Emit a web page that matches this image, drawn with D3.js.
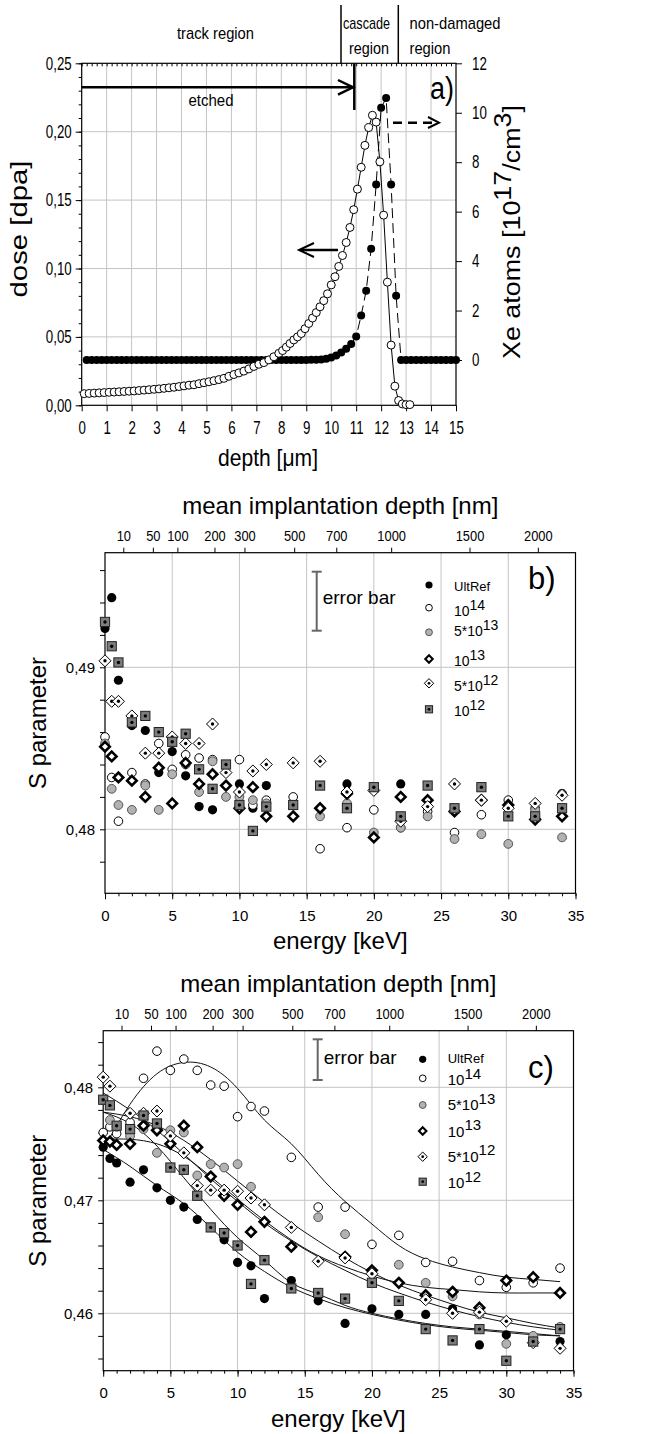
<!DOCTYPE html>
<html>
<head>
<meta charset="utf-8">
<script src="https://cdn.jsdelivr.net/npm/d3@7"></script>
<style>
  body { margin: 0; background: #fff; }
  svg { display: block; }
</style>
</head>
<body>
<svg id="chart" width="657" height="1434"></svg>
<script>
// ---------- panel a) data ----------
var doseDepth = [0.1,0.3,0.5,0.7,0.9,1.1,1.3,1.5,1.7,1.9,2.1,2.3,2.5,2.7,2.9,3.1,3.3,3.5,3.7,3.9,
  4.1,4.3,4.5,4.7,4.9,5.1,5.3,5.5,5.7,5.9,6.1,6.3,6.5,6.7,6.9,7.1,7.3,7.5,7.7,7.9,
  8.05,8.2,8.35,8.5,8.65,8.8,8.95,9.1,9.25,9.4,9.55,9.7,9.85,10.0,10.15,10.3,10.45,10.6,10.75,10.9,
  11.05,11.2,11.35,11.5,11.65,11.8,11.95,12.1,12.25,12.4,12.55,12.7,12.85,13.0,13.15];
var dose = [0.0085,0.0087,0.0089,0.0091,0.0093,0.0095,0.0097,0.0099,0.0101,0.0103,0.0105,0.0108,0.0111,0.0114,0.0117,0.0120,0.0124,0.0128,0.0132,0.0137,
  0.0142,0.0147,0.0150,0.0158,0.0165,0.0172,0.0180,0.0188,0.0197,0.0212,0.0225,0.0237,0.0250,0.0266,0.0284,0.0300,0.0312,0.0332,0.0355,0.0380,
  0.0400,0.0425,0.0452,0.0478,0.0500,0.0525,0.0560,0.0598,0.0638,0.0678,0.0720,0.0765,0.0815,0.0880,0.0940,0.1015,0.1095,0.1190,0.1300,0.1430,
  0.1580,0.1740,0.1900,0.2030,0.2120,0.2070,0.1780,0.1390,0.0900,0.0440,0.0140,0.0035,0.0010,0.0005,0.0005];

var xeDepth = [0.2,0.4,0.6,0.8,1.0,1.2,1.4,1.6,1.8,2.0,2.2,2.4,2.6,2.8,3.0,3.2,3.4,3.6,3.8,4.0,
  4.2,4.4,4.6,4.8,5.0,5.2,5.4,5.6,5.8,6.0,6.2,6.4,6.6,6.8,7.0,7.2,7.4,7.6,7.8,8.0,
  8.2,8.4,8.6,8.8,9.0,9.2,9.4,9.6,9.8,10.0,10.2,10.4,10.6,10.8,11.0,11.2,11.4,11.6,11.8,12.0,
  12.2,12.4,12.6,12.8,13.0,13.2,13.4,13.6,13.8,14.0,14.2,14.4,14.6,14.8,15.0];
var xeAtoms = [0,0,0,0,0,0,0,0,0,0,0,0,0,0,0,0,0,0,0,0,
  0,0,0,0,0,0,0,0,0,0,0,0,0,0,0,0,0,0,0,0,
  0,0,0,0,0,0.01,0.01,0.02,0.05,0.1,0.18,0.3,0.45,0.65,0.95,1.8,2.8,4.5,7.1,10.2,
  10.6,7.1,2.6,0,0,0,0,0,0,0,0,0,0,0,0];

// ---------- panels b) and c) data ----------
var energies = [0,0.5,1,2,3,4,5,6,7,8,9,10,11,12,14,16,18,20,22,24,26,28,30,32,34];
var seriesNames = ["UltRef","10^14","5*10^13","10^13","5*10^12","10^12"];
var seriesKinds = ["ult","e14","g13","d13","d12","s12"];

var bUltRef = [0.4924,0.4943,0.4892,0.4864,0.4861,0.4835,0.4848,0.4833,0.4814,0.4812,null,0.4828,0.4813,0.4827,null,null,0.4828,null,0.4828,null,null,null,null,null,0.4822];
var b1e14   = [0.4857,0.4832,0.4805,0.4835,0.4828,0.4853,0.4837,0.4846,0.4844,0.4843,null,0.4843,0.4815,0.4818,0.4820,0.4788,0.4801,0.4812,0.4801,0.4811,0.4798,0.4809,0.4818,0.4813,0.4822];
var b5e13   = [0.4853,0.4825,0.4815,0.4812,0.4827,0.4812,0.4834,0.4840,0.4823,0.4842,0.4820,0.4820,0.4818,0.4816,null,0.4808,0.4816,0.4798,0.4801,0.4808,0.4794,0.4797,0.4791,0.4812,0.4795];
var b1e13   = [0.4851,0.4845,0.4832,0.4830,0.4820,0.4838,0.4816,0.4841,0.4828,0.4834,0.4827,0.4813,0.4826,0.4808,0.4808,0.4813,0.4822,0.4795,0.4820,0.4818,0.4811,0.4818,0.4815,0.4806,0.4808];
var b5e12   = [0.4904,0.4879,0.4879,0.4870,0.4847,0.4847,0.4857,0.4853,0.4853,0.4865,0.4835,0.4823,0.4836,0.4840,0.4841,0.4842,0.4823,0.4824,0.4805,0.4814,0.4828,0.4818,0.4813,0.4816,0.4821];
var b1e12   = [0.4928,0.4913,0.4903,0.4866,0.4870,0.4860,0.4854,0.4859,0.4837,0.4825,0.4840,0.4815,0.4799,0.4814,0.4815,0.4827,0.4813,0.4826,0.4808,0.4827,0.4813,0.4826,0.4808,0.4808,0.4813];

var cUltRef = [0.4747,0.4737,0.4733,0.4716,0.4727,0.4711,0.4700,0.4694,0.4683,null,0.4665,0.4645,0.4642,0.4613,0.4629,0.4611,0.4591,0.4604,0.4599,0.4599,0.4604,0.4572,0.4581,null,0.4575];
var c1e14   = [0.4760,0.4765,0.4759,0.4769,0.4808,0.4832,0.4815,0.4825,0.4815,0.4802,0.4801,0.4774,0.4783,0.4779,0.4738,0.4694,0.4694,0.4661,0.4669,0.4645,0.4646,0.4629,0.4623,0.4627,0.4640];
var c5e13   = [0.4789,0.4771,0.4765,0.4757,0.4763,0.4742,0.4762,0.4760,0.4722,0.4732,0.4729,0.4732,0.4712,null,null,0.4685,0.4670,null,0.4643,0.4627,0.4615,0.4599,0.4573,0.4580,0.4588];
var c1e13   = [0.4753,0.4752,0.4749,0.4750,0.4766,0.4762,0.4750,0.4766,0.4747,0.4721,0.4704,0.4696,0.4672,0.4681,0.4659,null,0.4650,0.4638,0.4627,0.4616,0.4619,0.4605,0.4629,0.4632,0.4618];
var c5e12   = [0.4809,0.4801,null,0.4777,0.4777,0.4779,0.4757,0.4742,0.4713,0.4709,0.4709,0.4708,0.4702,0.4696,0.4676,0.4646,0.4649,0.4635,null,0.4612,0.4600,0.4601,0.4593,0.4574,0.4569];
var c1e12   = [0.4789,0.4784,0.4766,0.4763,0.4775,0.4768,0.4729,0.4727,0.4704,0.4676,0.4671,0.4660,0.4626,0.4647,0.4622,0.4618,0.4613,0.4627,0.4611,0.4586,0.4576,0.4586,0.4558,0.4575,0.4586];

// fitted curves of panel c)
var fitEnergy = [0,2,4,6,8,10,12,14,16,18,20,22,24,26,28,30,32,34];
var fitUltRef = [0.4745,0.4730,0.4713,0.4697,0.4676,0.4654,0.4637,0.4623,0.4613,0.4605,0.4599,0.4594,0.4590,0.4587,0.4585,0.4583,0.4581,0.4580];
var fit1e14   = [0.4745,0.4785,0.4812,0.4822,0.4818,0.4799,0.4771,0.4750,0.4723,0.4699,0.4679,0.4660,0.4648,0.4641,0.4636,0.4632,0.4630,0.4628];
var fit5e13   = [0.4778,0.4774,0.4766,0.4753,0.4736,0.4717,0.4698,0.4680,0.4664,0.4649,0.4636,0.4625,0.4616,0.4608,0.4601,0.4596,0.4591,0.4587];
var fit1e13   = [0.4754,0.4754,0.4750,0.4739,0.4721,0.4701,0.4682,0.4665,0.4651,0.4641,0.4633,0.4627,0.4623,0.4621,0.4619,0.4618,0.4618,0.4618];
var fit5e12   = [0.4795,0.4780,0.4762,0.4741,0.4719,0.4699,0.4680,0.4664,0.4650,0.4638,0.4627,0.4618,0.4610,0.4603,0.4597,0.4592,0.4588,0.4585];
var fit1e12   = [0.4778,0.4768,0.4748,0.4720,0.4692,0.4667,0.4647,0.4627,0.4617,0.4607,0.4600,0.4595,0.4591,0.4588,0.4586,0.4584,0.4582,0.4580];

// top axis (mean implantation depth) tick labels
var depthTicks = [10,50,100,200,300,500,700,1000,1500,2000];

var FONT = "'Liberation Sans', Arial, sans-serif";
var GRID = "#c4c4c4";

var svg = d3.select("#chart");
function comma(v){ return d3.format(".2f")(v).replace(".", ","); }

// remove domain, style ticks; sx squeezes the labels horizontally
function cleanAxis(g, size, sx){
	g.select(".domain").remove();
	g.selectAll(".tick line").attr("stroke", "#000");
	var t = g.selectAll(".tick text").attr("fill", "#000").style("font-family", FONT).style("font-size", size + "px");
	if (sx && sx !== 1) {
		t.each(function(){
			var el = d3.select(this);
			var x = +el.attr("x") || 0;
			el.attr("x", x / sx).attr("transform", "scale(" + sx + ",1)");
		});
	}
}

// text fitted to a given width
function fitText(g, x, y, s, size, width, anchor){
	return g.append("text").attr("x", x).attr("y", y).attr("text-anchor", anchor || "middle")
		.style("font-family", FONT).style("font-size", size + "px")
		.attr("textLength", width).attr("lengthAdjust", "spacingAndGlyphs").text(s);
}

function drawMarker(g, kind, x, y, s){
	s = s || 1;
	var m = g.append("g").attr("transform", "translate(" + x + "," + y + ")");
	if (kind === "ult") {
		m.append("circle").attr("r", 4.6*s).attr("fill", "#000");
	} else if (kind === "e14") {
		m.append("circle").attr("r", 4.3*s).attr("fill", "#fff").attr("stroke", "#000").attr("stroke-width", 1);
	} else if (kind === "g13") {
		m.append("circle").attr("r", 4.4*s).attr("fill", "#b2b2b2").attr("stroke", "#555").attr("stroke-width", 1);
	} else if (kind === "d13") {
		var h = 4.8*s;
		m.append("path").attr("d", "M0," + (-h) + "L" + h + ",0L0," + h + "L" + (-h) + ",0Z")
			.attr("fill", "#fff").attr("stroke", "#000").attr("stroke-width", 2.6*s);
	} else if (kind === "d12") {
		var h2 = 6*s;
		m.append("path").attr("d", "M0," + (-h2) + "L" + h2 + ",0L0," + h2 + "L" + (-h2) + ",0Z")
			.attr("fill", "#fff").attr("stroke", "#000").attr("stroke-width", 1);
		m.append("circle").attr("r", 1.7*s).attr("fill", "#000");
	} else if (kind === "s12") {
		var a = 4.6*s;
		m.append("rect").attr("x", -a).attr("y", -a).attr("width", 2*a).attr("height", 2*a)
			.attr("fill", "#7c7c7c").attr("stroke", "#222").attr("stroke-width", 1);
		m.append("circle").attr("r", 1.7*s).attr("fill", "#000");
	}
}

function supLabel(g, x, y, base, sup, size){
	var t = g.append("text").attr("x", x).attr("y", y)
		.style("font-family", FONT).style("font-size", size + "px").attr("fill", "#000");
	t.append("tspan").text(base);
	if (sup) t.append("tspan").attr("dy", -6.5).text(sup);
}

///////////////////////////
// panel a)
///////////////////////////
var A = {l: 81.7, r: 456, t: 63.3, b: 405.3};
var SQ = 0.74;
var xA = d3.scaleLinear().domain([0, 15]).range([A.l, A.r]);
var yA = d3.scaleLinear().domain([0, 0.25]).range([A.b, A.t]);
var yXe = d3.scaleLinear().domain([0, 12]).range([360, A.t]);
var gA = svg.append("g");

// grid
gA.selectAll(".vg").data(d3.range(1, 15)).enter().append("line")
	.attr("x1", function(d){ return xA(d); }).attr("x2", function(d){ return xA(d); })
	.attr("y1", A.t).attr("y2", A.b).attr("stroke", GRID);
gA.selectAll(".hg").data([0.05, 0.10, 0.15, 0.20]).enter().append("line")
	.attr("x1", A.l).attr("x2", A.r)
	.attr("y1", function(d){ return yA(d); }).attr("y2", function(d){ return yA(d); }).attr("stroke", GRID);

// axes
gA.append("g").attr("transform", "translate(0," + A.b + ")")
	.call(d3.axisBottom(xA).tickValues(d3.range(0, 16)).tickSize(6).tickPadding(10).tickFormat(d3.format("d")))
	.call(cleanAxis, 18, SQ);
gA.append("g").attr("transform", "translate(0," + A.t + ")")
	.call(d3.axisBottom(xA).tickValues(d3.range(0, 75).map(function(i){ return i*0.2; })).tickSize(3).tickFormat(""))
	.call(cleanAxis, 18);
gA.append("g").attr("transform", "translate(" + A.l + ",0)")
	.call(d3.axisLeft(yA).tickValues([0, 0.05, 0.10, 0.15, 0.20, 0.25]).tickSize(6).tickPadding(4).tickFormat(comma))
	.call(cleanAxis, 18, SQ);
gA.append("g").attr("transform", "translate(" + A.l + ",0)")
	.call(d3.axisLeft(yA).tickValues(d3.range(0, 26).map(function(i){ return i*0.01; })).tickSize(3).tickFormat(""))
	.call(cleanAxis, 18);
gA.append("g").attr("transform", "translate(" + A.r + ",0)")
	.call(d3.axisRight(yXe).tickValues([0, 2, 4, 6, 8, 10, 12]).tickSize(6).tickPadding(10).tickFormat(d3.format("d")))
	.call(cleanAxis, 18, SQ);
gA.append("rect").attr("x", A.l).attr("y", A.t).attr("width", A.r - A.l).attr("height", A.b - A.t)
	.attr("fill", "none").attr("stroke", "#000").attr("stroke-width", 1.2);

// lines + markers
var dosePts = doseDepth.map(function(d, i){ return [d, dose[i]]; });
var xePts = xeDepth.map(function(d, i){ return [d, xeAtoms[i]]; });
gA.append("path").datum(dosePts)
	.attr("d", d3.line().x(function(d){ return xA(d[0]); }).y(function(d){ return yA(d[1]); }))
	.attr("fill", "none").attr("stroke", "#000").attr("stroke-width", 1);
gA.append("path").datum(xePts)
	.attr("d", d3.line().x(function(d){ return xA(d[0]); }).y(function(d){ return yXe(d[1]); }))
	.attr("fill", "none").attr("stroke", "#000").attr("stroke-width", 1).attr("stroke-dasharray", "10,5");
gA.selectAll(".xe").data(xePts).enter().append("circle")
	.attr("cx", function(d){ return xA(d[0]); }).attr("cy", function(d){ return yXe(d[1]); })
	.attr("r", 4).attr("fill", "#000");
gA.selectAll(".dose").data(dosePts).enter().append("circle")
	.attr("cx", function(d){ return xA(d[0]); }).attr("cy", function(d){ return yA(d[1]); })
	.attr("r", 4).attr("fill", "#fff").attr("stroke", "#000").attr("stroke-width", 1);

// region annotations
[341, 398.3].forEach(function(x){
	gA.append("line").attr("x1", x).attr("x2", x).attr("y1", 5).attr("y2", A.t).attr("stroke", "#000").attr("stroke-width", 1.5);
});
fitText(gA, 215.5, 39, "track region", 17, 77);
fitText(gA, 366.5, 29, "cascade", 17, 47);
fitText(gA, 369, 54, "region", 17, 40);
fitText(gA, 409.5, 29, "non-damaged", 17, 91, "start");
fitText(gA, 409.5, 54, "region", 17, 41, "start");
fitText(gA, 211, 106, "etched", 17, 45);

// etched arrow
gA.append("line").attr("x1", A.l).attr("x2", 354.3).attr("y1", 87.3).attr("y2", 87.3).attr("stroke", "#000").attr("stroke-width", 2.5);
gA.append("path").attr("d", "M338,80L353,87.3L338,94.6").attr("fill", "none").attr("stroke", "#000").attr("stroke-width", 2.5);
gA.append("line").attr("x1", 354.3).attr("x2", 354.3).attr("y1", A.t).attr("y2", 110).attr("stroke", "#000").attr("stroke-width", 2.5);
// dashed arrow (right axis)
gA.append("line").attr("x1", 393).attr("x2", 437).attr("y1", 122.7).attr("y2", 122.7)
	.attr("stroke", "#000").attr("stroke-width", 2.5).attr("stroke-dasharray", "9,6");
gA.append("path").attr("d", "M428,117L439,122.7L428,128").attr("fill", "none").attr("stroke", "#000").attr("stroke-width", 2);
// solid arrow (left axis)
gA.append("line").attr("x1", 338).attr("x2", 300).attr("y1", 250).attr("y2", 250).attr("stroke", "#000").attr("stroke-width", 2.5);
gA.append("path").attr("d", "M314,243L299,250L314,257").attr("fill", "none").attr("stroke", "#000").attr("stroke-width", 2);

fitText(gA, 430, 99, "a)", 31, 24, "start");

// axis titles
gA.append("g").attr("transform", "translate(27,229) rotate(-90)")
	.call(function(g){ fitText(g, 0, 0, "dose [dpa]", 24, 137); });
fitText(gA, 268, 466, "depth [\u03bcm]", 24, 100);
var xeT = gA.append("text").attr("transform", "translate(520,232) rotate(-90) scale(1.12,1)").attr("text-anchor", "middle")
	.style("font-family", FONT).style("font-size", "24px");
xeT.append("tspan").text("Xe atoms [10");
xeT.append("tspan").attr("dy", -9).text("17");
xeT.append("tspan").attr("dy", 9).text("/cm");
xeT.append("tspan").attr("dy", -9).text("3");
xeT.append("tspan").attr("dy", 9).text("]");

///////////////////////////
// panels b) and c)
///////////////////////////
function sPanel(P, series, fits){
	var g = svg.append("g");
	var x = d3.scaleLinear().domain([0, 35]).range([P.l, P.r]);
	var y = d3.scaleLinear().domain(P.yDom).range(P.yRange);
	var xDepth = d3.scalePow().exponent(0.597).domain([0, 2300]).range([P.l, P.r]);

	// grid
	g.selectAll(".vg").data([5, 10, 15, 20, 25, 30]).enter().append("line")
		.attr("x1", function(d){ return x(d); }).attr("x2", function(d){ return x(d); })
		.attr("y1", P.t).attr("y2", P.b).attr("stroke", GRID);
	g.selectAll(".hg").data(P.yLabels).enter().append("line")
		.attr("x1", P.l).attr("x2", P.r)
		.attr("y1", function(d){ return y(d); }).attr("y2", function(d){ return y(d); }).attr("stroke", GRID);

	// axes
	g.append("g").attr("transform", "translate(0," + P.b + ")")
		.call(d3.axisBottom(x).tickValues(d3.range(0, 36, 5)).tickSize(6).tickPadding(11).tickFormat(d3.format("d")))
		.call(cleanAxis, 15);
	g.append("g").attr("transform", "translate(0," + P.b + ")")
		.call(d3.axisBottom(x).tickValues(d3.range(0, 36)).tickSize(3).tickFormat(""))
		.call(cleanAxis, 15);
	g.append("g").attr("transform", "translate(0," + P.t + ")")
		.call(d3.axisTop(xDepth).tickValues(depthTicks).tickSize(5).tickPadding(7).tickFormat(d3.format("d")))
		.call(cleanAxis, 15, 0.86);
	g.append("g").attr("transform", "translate(" + P.l + ",0)")
		.call(d3.axisLeft(y).tickValues(P.yLabels).tickSize(5).tickPadding(5).tickFormat(comma))
		.call(cleanAxis, 15);
	g.append("g").attr("transform", "translate(" + P.l + ",0)")
		.call(d3.axisLeft(y).tickValues(P.yMinor).tickSize(5).tickFormat(""))
		.call(cleanAxis, 15);
	g.append("rect").attr("x", P.l).attr("y", P.t).attr("width", P.r - P.l).attr("height", P.b - P.t)
		.attr("fill", "none").attr("stroke", "#000").attr("stroke-width", 1.2);

	// fitted curves
	if (fits) {
		var line = d3.line().curve(d3.curveNatural)
			.x(function(d){ return x(d[0]); }).y(function(d){ return y(d[1]); });
		fits.forEach(function(f){
			g.append("path").datum(fitEnergy.map(function(e, i){ return [e, f[i]]; }))
				.attr("d", line).attr("fill", "none").attr("stroke", "#111").attr("stroke-width", 1);
		});
	}

	// markers
	series.forEach(function(s, k){
		s.forEach(function(v, i){
			if (v === null) return;
			drawMarker(g, seriesKinds[k], x(energies[i]), y(v));
		});
	});

	// error bar
	g.append("line").attr("x1", P.errX).attr("x2", P.errX).attr("y1", P.errY[0]).attr("y2", P.errY[1])
		.attr("stroke", "#666").attr("stroke-width", 2);
	P.errY.forEach(function(v){
		g.append("line").attr("x1", P.errX - 5).attr("x2", P.errX + 5).attr("y1", v).attr("y2", v)
			.attr("stroke", "#666").attr("stroke-width", 2);
	});
	g.append("text").attr("x", P.errX + 6).attr("y", P.errTextY)
		.style("font-family", FONT).style("font-size", "19px").text("error bar");

	// legend
	seriesNames.forEach(function(name, k){
		drawMarker(g, seriesKinds[k], P.legX, P.legRows[k], 0.78);
		var parts = name.split("^");
		if (k === 0) {
			g.append("text").attr("x", P.legX + 25).attr("y", P.legBase[k])
				.style("font-family", FONT).style("font-size", "13px").text(name);
		} else {
			supLabel(g, P.legX + 25, P.legBase[k], parts[0], parts[1], P.legFont);
		}
	});

	g.append("text").attr("x", 528).attr("y", P.tagY).style("font-family", FONT).style("font-size", "31px").text(P.tag);

	// titles
	g.append("text").attr("x", (P.l + P.r)/2).attr("y", P.t - 39).attr("text-anchor", "middle")
		.style("font-family", FONT).style("font-size", "24px").text("mean implantation depth [nm]");
	g.append("text").attr("x", (P.l + P.r)/2).attr("y", P.b + 56).attr("text-anchor", "middle")
		.style("font-family", FONT).style("font-size", "24px").text("energy [keV]");
	g.append("text").attr("transform", "translate(46," + ((P.t + P.b)/2) + ") rotate(-90)").attr("text-anchor", "middle")
		.style("font-family", FONT).style("font-size", "24px").text("S parameter");
}

sPanel({
	l: 105, r: 575.5, t: 552.7, b: 893.3,
	yDom: [0.48, 0.49], yRange: [829.3, 667.3],
	yLabels: [0.48, 0.49],
	yMinor: [0.478, 0.482, 0.484, 0.486, 0.488, 0.492, 0.494, 0.496],
	errX: 316.7, errY: [571.7, 630.7], errTextY: 604,
	legX: 429, legRows: [585, 607.7, 632.3, 659, 683.3, 709.3],
	legBase: [590.5, 616, 636, 666, 691, 716], legFont: 14,
	tag: "b)", tagY: 589
}, [bUltRef, b1e14, b5e13, b1e13, b5e12, b1e12], null);

sPanel({
	l: 103.2, r: 573.5, t: 1030.7, b: 1370.7,
	yDom: [0.46, 0.48], yRange: [1313.3, 1087.3],
	yLabels: [0.46, 0.47, 0.48],
	yMinor: [0.456, 0.458, 0.462, 0.464, 0.466, 0.468, 0.472, 0.474, 0.476, 0.478, 0.482, 0.484],
	errX: 317.7, errY: [1039.3, 1080], errTextY: 1064,
	legX: 422.7, legRows: [1059.3, 1078.3, 1105, 1131, 1156.7, 1181.7],
	legBase: [1062.5, 1085, 1110, 1136.5, 1161.5, 1188], legFont: 15,
	tag: "c)", tagY: 1078
}, [cUltRef, c1e14, c5e13, c1e13, c5e12, c1e12], [fitUltRef, fit1e14, fit5e13, fit1e13, fit5e12, fit1e12]);
</script>
</body>
</html>
